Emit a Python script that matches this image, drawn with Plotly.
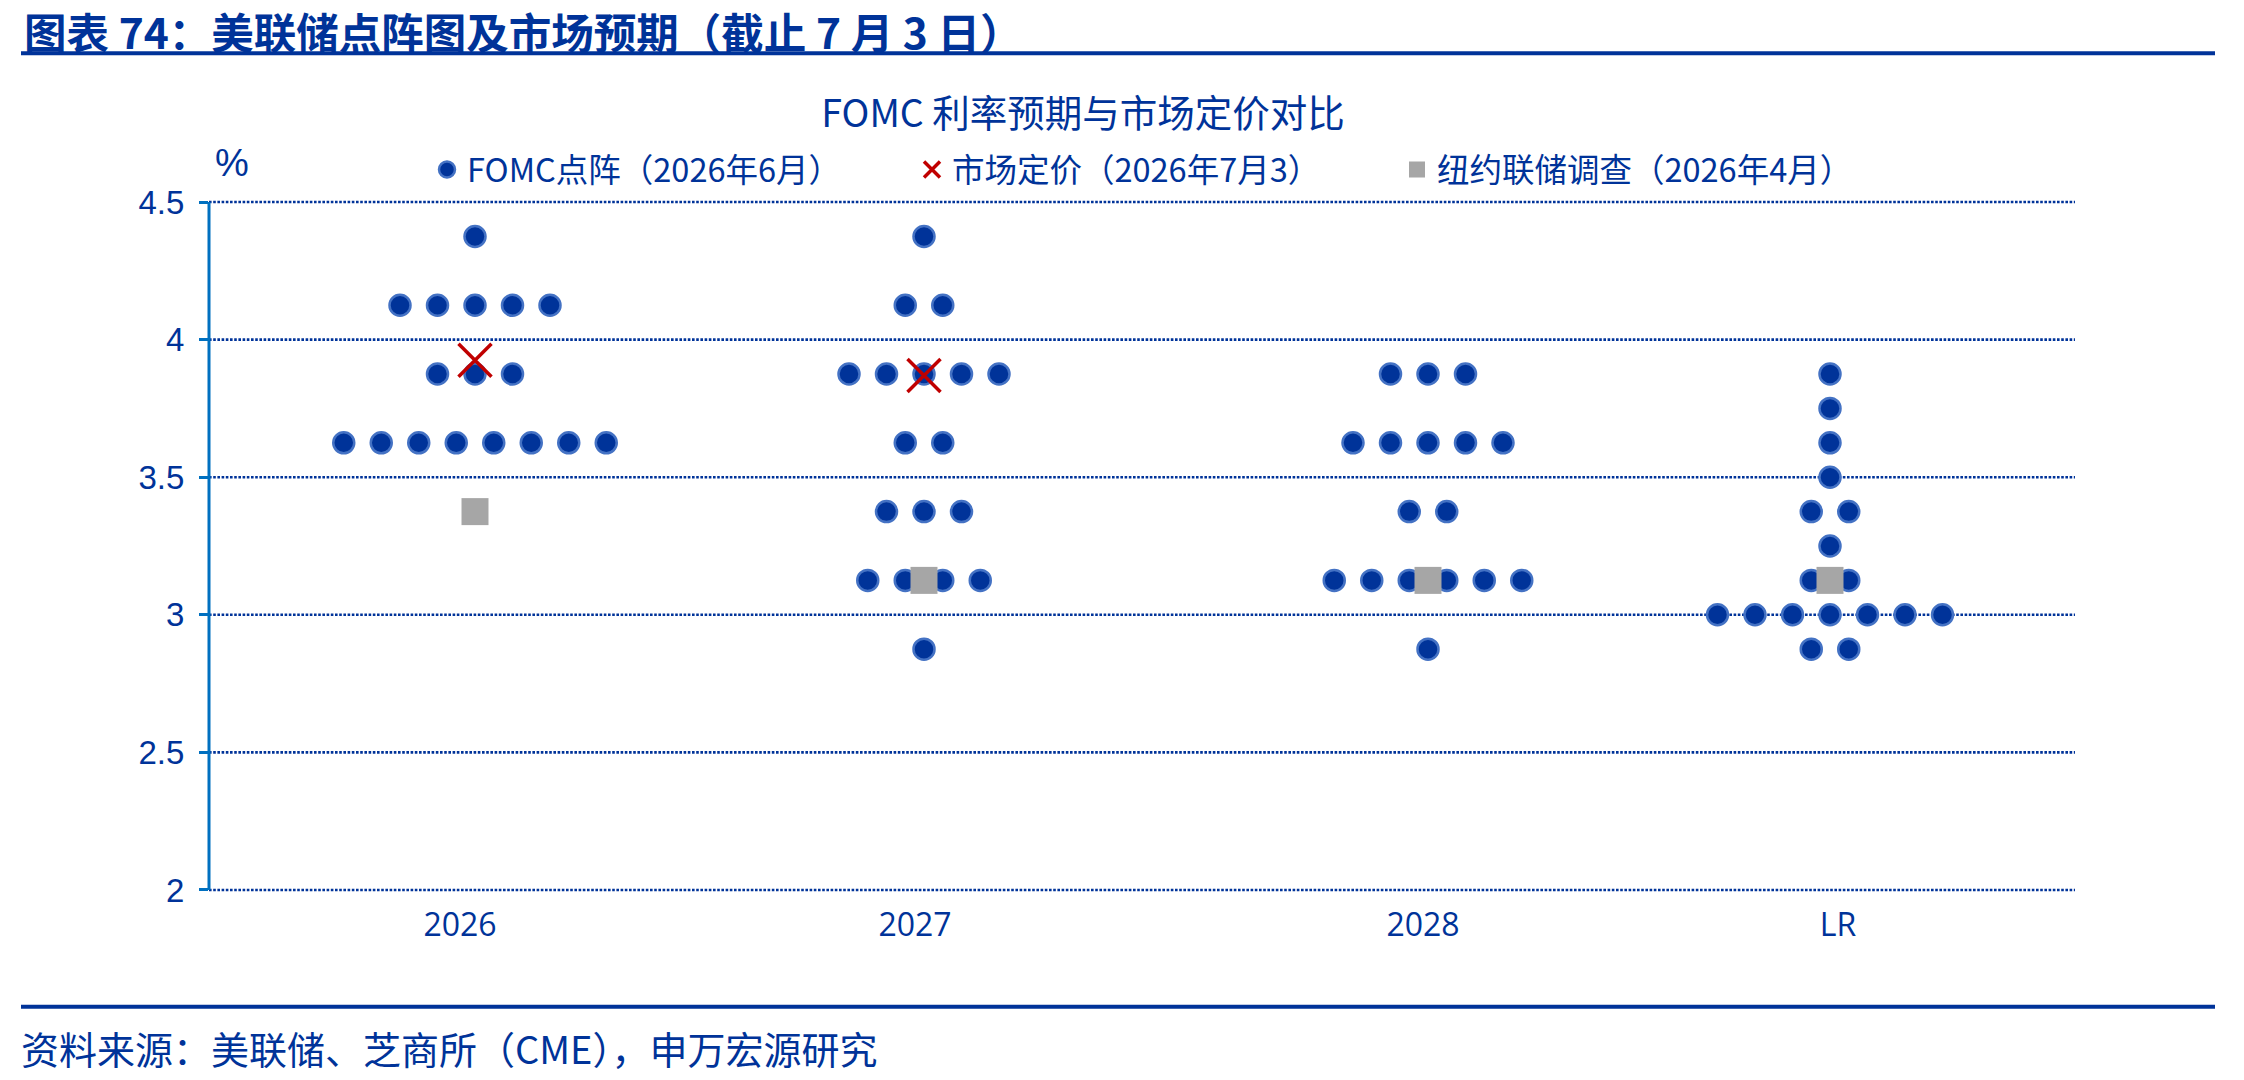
import plotly.graph_objects as go

# ---------------- data ----------------
categories = ["2026", "2027", "2028", "LR"]
rates_2026 = [4.375, 4.125, 3.875, 3.625]
counts_2026 = [1, 5, 3, 8]
rates_2027 = [4.375, 4.125, 3.875, 3.625, 3.375, 3.125, 2.875]
counts_2027 = [1, 2, 5, 2, 3, 4, 1]
rates_2028 = [3.875, 3.625, 3.375, 3.125, 2.875]
counts_2028 = [3, 5, 2, 6, 1]
rates_lr = [3.875, 3.75, 3.625, 3.5, 3.375, 3.25, 3.125, 3.0, 2.875]
counts_lr = [1, 1, 1, 1, 2, 1, 2, 7, 2]
market_pricing = [3.925, 3.87, None, None]
ny_survey = [3.375, 3.125, 3.125, 3.125]
y_ticks = [2, 2.5, 3, 3.5, 4, 4.5]
y_tick_labels = ["2", "2.5", "3", "3.5", "4", "4.5"]

series_fomc = "FOMC点阵（2026年6月）"
series_market = "市场定价（2026年7月3）"
series_survey = "纽约联储调查（2026年4月）"
chart_title = "FOMC 利率预期与市场定价对比"
header = "图表 74：美联储点阵图及市场预期（截止 7 月 3 日）"
source = "资料来源：美联储、芝商所（CME），申万宏源研究"

# ---------------- layout helpers ----------------
cat_center = [475, 924, 1428, 1830]      # horizontal position of each column
cat_label_pos = [460, 915, 1423, 1838]   # position of category labels
dot_step = 37.5                          # spacing of dots within a row

W, H = 2244, 1080
L, R, T, B = 209, 169, 202, 190
PW, PH = W - L - R, H - T - B
Y_PAD = 0.0075  # tiny range padding so edge lines are not clipped

def px_x(X):
    return (X - L) / PW

def px_y(Y):
    return (H - B - Y) / PH

TXT = "#003399"
CJK = "Noto Sans CJK SC"

dot_x, dot_y = [], []
for center, rates, counts in zip(cat_center,
                                 [rates_2026, rates_2027, rates_2028, rates_lr],
                                 [counts_2026, counts_2027, counts_2028, counts_lr]):
    for r, n in zip(rates, counts):
        for i in range(n):
            dot_x.append(center + (i - (n - 1) / 2) * dot_step)
            dot_y.append(r)

fig = go.Figure()
fig.add_trace(go.Scatter(
    x=dot_x, y=dot_y, mode="markers", name=series_fomc,
    marker=dict(symbol="circle", size=21, color="#003399",
                line=dict(color="#4472C4", width=2.5)),
    cliponaxis=False,
))
fig.add_trace(go.Scatter(
    x=cat_center, y=market_pricing, mode="markers", name=series_market,
    marker=dict(symbol="x-thin", size=33, color="#C00000",
                line=dict(color="#C00000", width=3.5)),
    cliponaxis=False,
))
fig.add_trace(go.Scatter(
    x=cat_center, y=ny_survey, mode="markers", name=series_survey,
    marker=dict(symbol="square", size=27, color="#A6A6A6", line=dict(width=0)),
    cliponaxis=False,
))

y0, y1 = min(y_ticks), max(y_ticks)
fig.update_layout(
    width=W, height=H, autosize=False,
    margin=dict(l=L, r=R, t=T - 2, b=B - 2, pad=0),
    paper_bgcolor="white", plot_bgcolor="white",
    font=dict(family=CJK, color=TXT),
    showlegend=True,
    legend=dict(
        orientation="h", x=px_x(427), y=px_y(172), xanchor="left", yanchor="middle",
        font=dict(family=CJK, size=32.5, color=TXT),
        entrywidth=440, entrywidthmode="pixels",
        bgcolor="rgba(0,0,0,0)", itemsizing="trace",
    ),
    title=dict(
        text=chart_title, x=1083 / W, xref="container", xanchor="center",
        y=1 - 114 / H, yref="container", yanchor="middle",
        font=dict(family=CJK, size=37.5, color=TXT),
    ),
    xaxis=dict(
        range=[L, W - R], tickmode="array", tickvals=cat_label_pos, ticktext=categories,
        showgrid=False, zeroline=False, showline=False, ticks="",
        tickfont=dict(family="Open Sans", size=32, color=TXT),
        ticklabelstandoff=11,
    ),
    yaxis=dict(
        range=[y0 - Y_PAD, y1 + Y_PAD], tickmode="array", tickvals=y_ticks, ticktext=y_tick_labels,
        showgrid=False, zeroline=False, showline=False,
        ticks="outside", ticklen=9, tickwidth=3, tickcolor="#0070C0",
        tickfont=dict(family="Liberation Sans", size=33, color=TXT),
        ticklabelstandoff=8,
    ),
)

# dotted horizontal gridlines at every tick (including the range ends)
for v in y_ticks:
    fig.add_shape(type="line", xref="paper", yref="y", x0=0, x1=1, y0=v, y1=v,
                  line=dict(color="#003399", width=2.6, dash="2.6px,1.6px"), layer="below")

# y-axis line spanning exactly the value range
fig.add_shape(type="line", xref="paper", yref="y", x0=0, x1=0, y0=y0, y1=y1,
              line=dict(color="#0070C0", width=3), layer="above")

# header & footer
fig.add_annotation(text=header, x=px_x(22), y=px_y(33), xref="paper", yref="paper",
                   xanchor="left", yanchor="middle", showarrow=False,
                   font=dict(family=CJK, size=42.5, color=TXT, weight=700))
fig.add_annotation(text=source, x=px_x(19), y=px_y(1045), xref="paper", yref="paper",
                   xanchor="left", yanchor="middle", showarrow=False,
                   font=dict(family=CJK, size=38, color=TXT))
fig.add_annotation(text="%", x=px_x(232), y=px_y(165), xref="paper", yref="paper",
                   xanchor="center", yanchor="middle", showarrow=False,
                   font=dict(family="Liberation Sans", size=38, color=TXT))
fig.add_shape(type="line", xref="paper", yref="paper",
              x0=px_x(21), x1=px_x(2215), y0=px_y(56), y1=px_y(56),
              line=dict(color="#003399", width=4))
fig.add_shape(type="line", xref="paper", yref="paper",
              x0=px_x(21), x1=px_x(2215), y0=px_y(1004), y1=px_y(1004),
              line=dict(color="#003399", width=4))

fig.write_html("out.html")
